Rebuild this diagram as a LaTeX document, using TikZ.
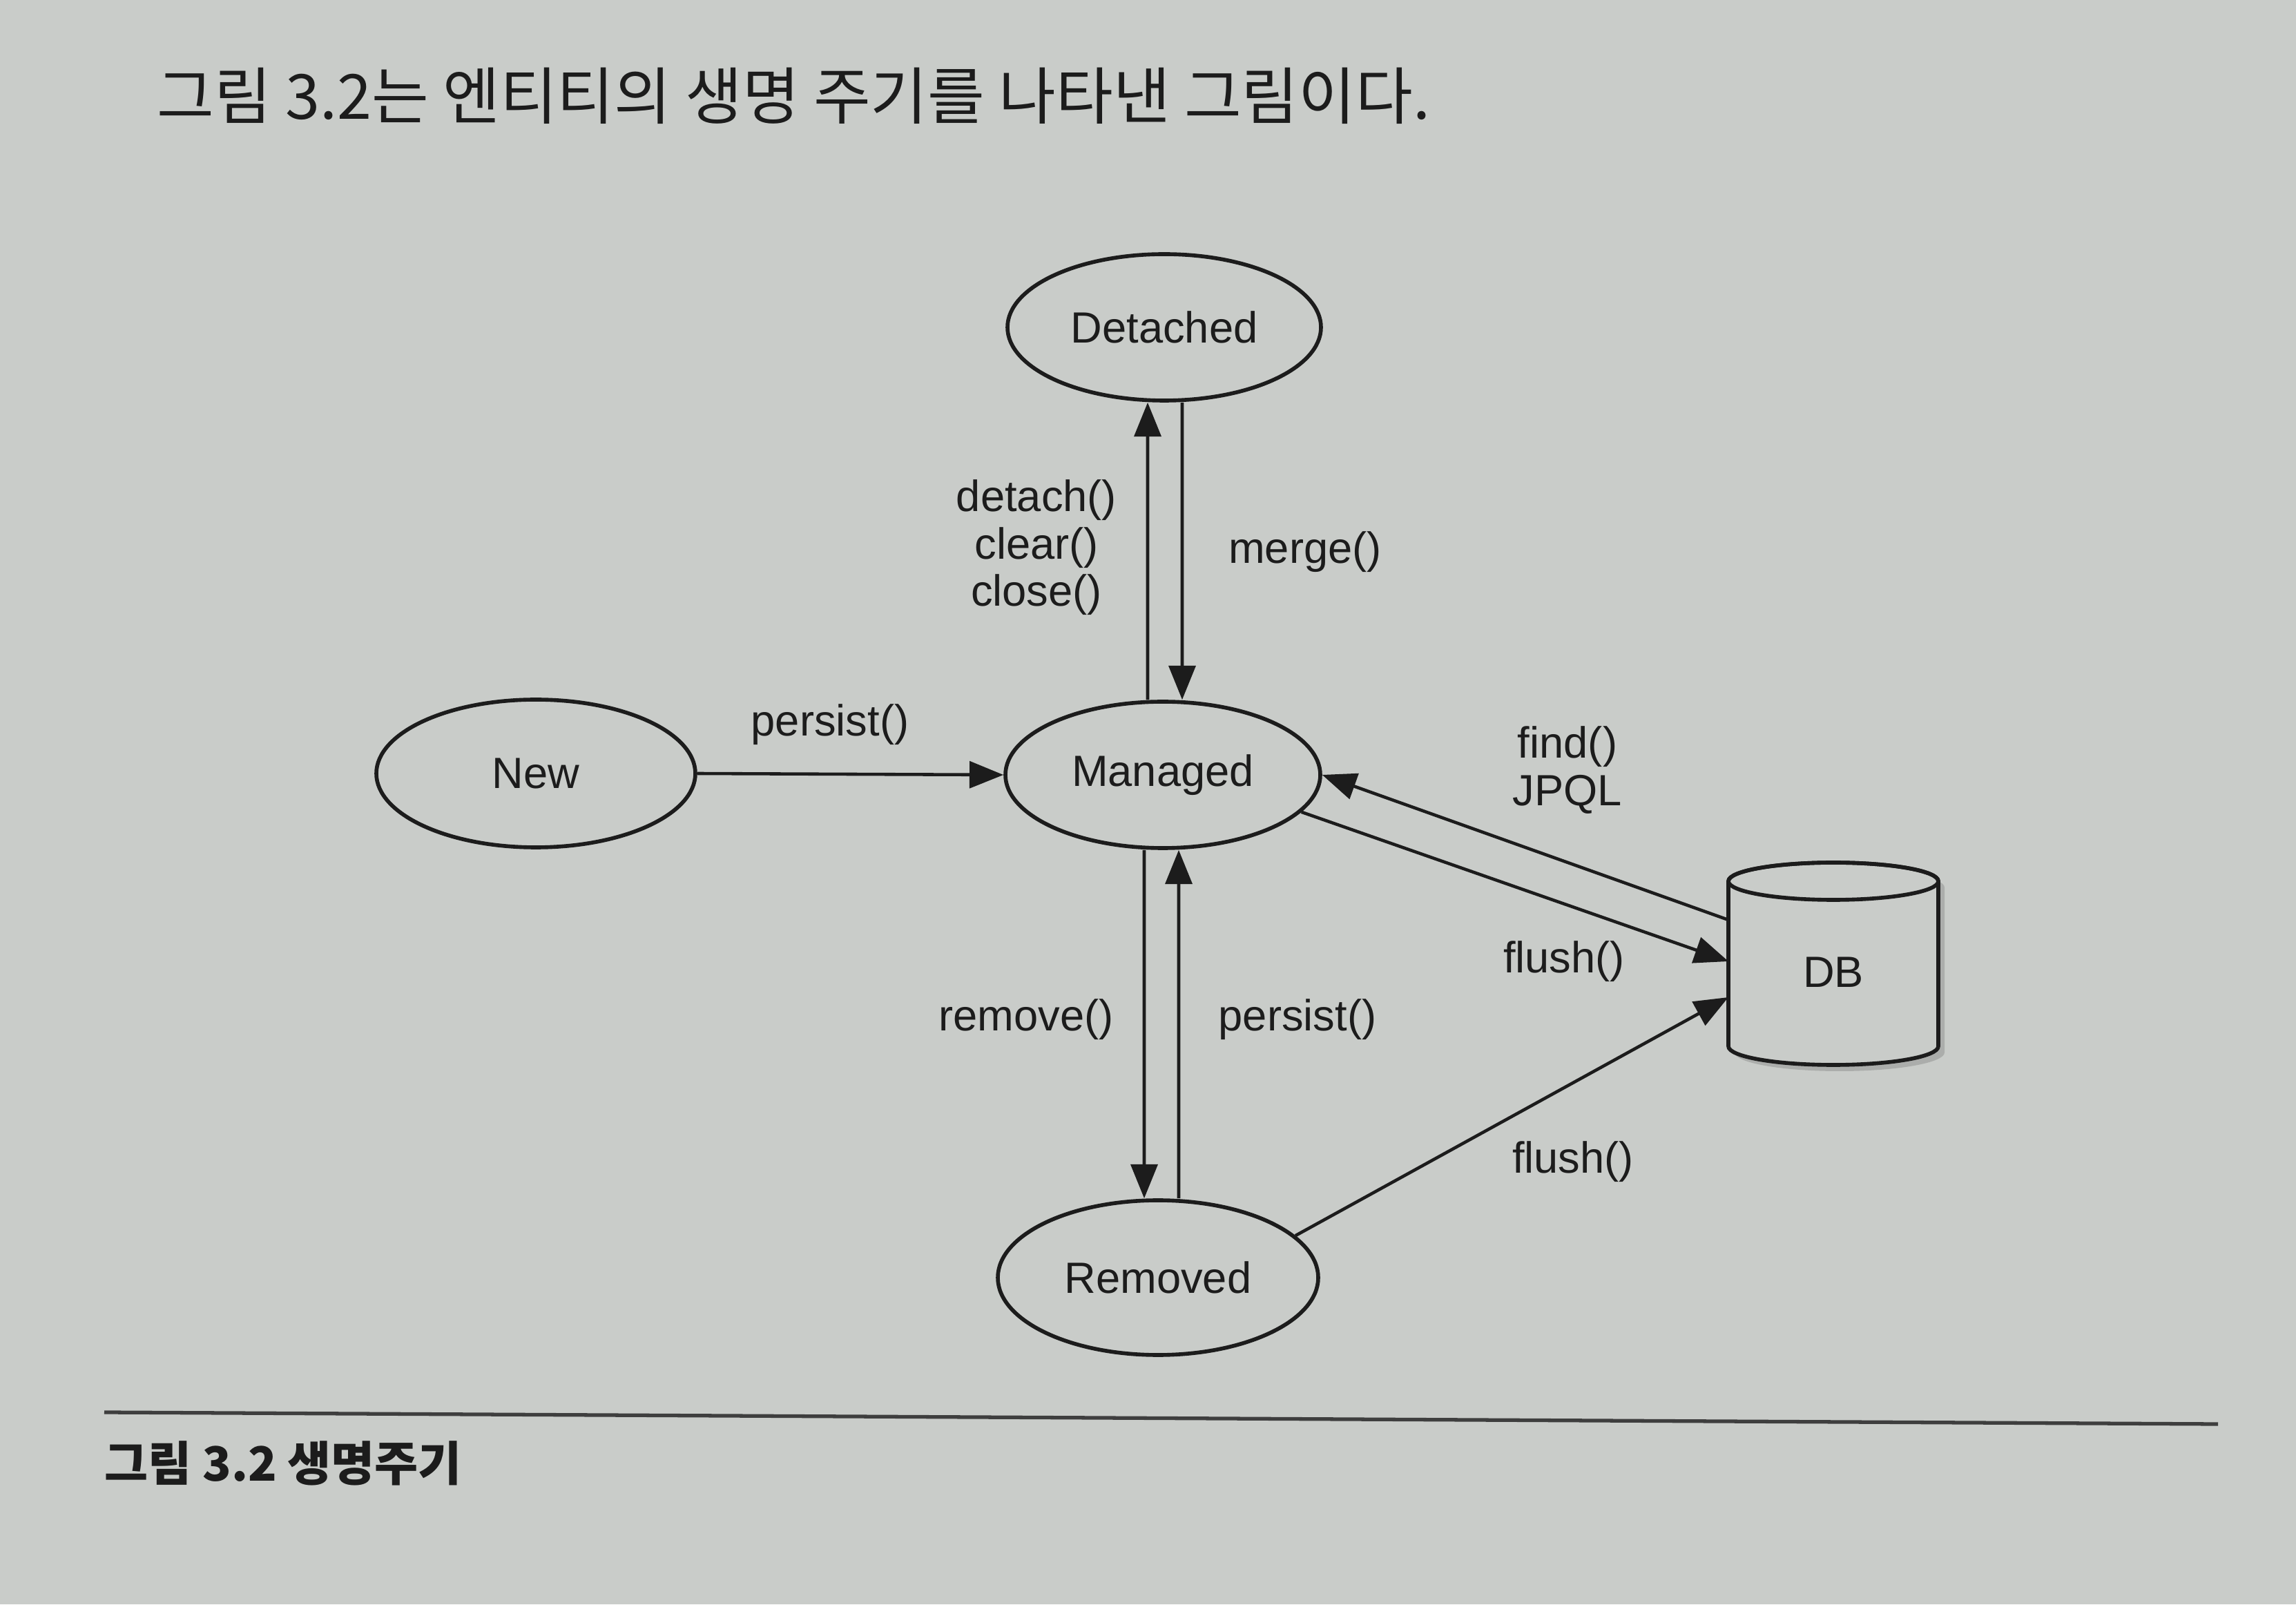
\documentclass[tikz,border=0pt]{standalone}
\usepackage{fontspec}
\usepackage{tikz}
\usetikzlibrary{shapes.geometric,arrows.meta}
\setmainfont{Liberation Sans}
\newfontfamily\krfont{Noto Sans CJK KR}
\definecolor{paper}{RGB}{201,204,201}
\definecolor{ink}{RGB}{28,28,28}

\begin{document}
\begin{tikzpicture}[
  state/.style={ellipse, draw=ink, line width=1.6pt, inner sep=0pt, text=ink},
  arr/.style={draw=ink, line width=1.3pt, -{Triangle[length=14pt,width=11pt]}},
  lbl/.style={text=ink, align=center, inner sep=0pt},
  font=\fontsize{18}{19.5}\selectfont
]
\fill[paper] (0,0) rectangle (33.25,23.23);
\useasboundingbox (0,0) rectangle (33.25,23.23);

\node[anchor=west, text=ink, inner sep=0pt] (title) at (2.27,21.84) {\krfont\fontsize{25.6}{30}\selectfont 그림 3.2는 엔티티의 생명 주기를 나타낸 그림이다.};

% states
\node[state, minimum width=4.54cm, minimum height=2.12cm] (detached) at (16.86,18.49) {Detached};
\node[state, minimum width=4.62cm, minimum height=2.14cm] (new) at (7.76,12.03) {New};
\node[state, minimum width=4.56cm, minimum height=2.12cm] (managed) at (16.84,12.01) {Managed};
\node[state, minimum width=4.64cm, minimum height=2.24cm] (removed) at (16.77,4.73) {Removed};

% db cylinder
\fill[black, opacity=0.15, xshift=0.9mm, yshift=-0.9mm] (25.03,10.47) -- (25.03,8.08) arc[start angle=180, end angle=360, x radius=1.52, y radius=0.27] -- (28.07,10.47) arc[start angle=0, end angle=180, x radius=1.52, y radius=0.27] -- cycle;
\draw[ink, line width=1.6pt, fill=paper] (25.03,10.47) -- (25.03,8.08) arc[start angle=180, end angle=360, x radius=1.52, y radius=0.27] -- (28.07,10.47) arc[start angle=0, end angle=180, x radius=1.52, y radius=0.27] -- cycle;
\draw[ink, line width=1.6pt] (26.55,10.47) ellipse[x radius=1.52, y radius=0.27];
\node[text=ink] (db) at (26.55,9.15) {DB};
\coordinate (dbfind) at (25.03,9.91);
\coordinate (dbflush) at (25.03,9.31);
\coordinate (dbrem) at (25.03,8.79);

% transitions
\draw[arr] (new.east) -- (managed.west);
\draw[arr] ([xshift=-2.2mm]managed.north) -- ([xshift=-2.4mm]detached.south);
\draw[arr] ([xshift=2.6mm]detached.south) -- ([xshift=2.8mm]managed.north);
\draw[arr] ([xshift=-2.7mm]managed.south) -- ([xshift=-2.0mm]removed.north);
\draw[arr] ([xshift=3.0mm]removed.north) -- ([xshift=2.3mm]managed.south);
\draw[arr] (dbfind) -- (managed.east);
\draw[arr] (managed.-15) -- (dbflush);
\draw[arr] (removed.17) -- (dbrem);

% labels
\node[lbl] (detachlbl) at (15.01,15.30) {detach()\\clear()\\close()};
\node[lbl] (mergelbl) at (18.90,15.24) {merge()};
\node[lbl] (persistlbl) at (12.02,12.74) {persist()};
\node[lbl] (findlbl) at (22.70,12.08) {find()\\JPQL};
\node[lbl] (flushlbl) at (22.65,9.31) {flush()};
\node[lbl] (flushlbl2) at (22.78,6.41) {flush()};
\node[lbl] (removelbl) at (14.86,8.47) {remove()};
\node[lbl] (persistlbl2) at (18.79,8.47) {persist()};

% caption
\draw[ink!85, line width=1.5pt] (1.51,2.78) -- (32.12,2.61);
\node[anchor=west, text=ink, inner sep=0pt] (caption) at (1.51,2.04) {\krfont\bfseries\fontsize{19.5}{22}\selectfont 그림 3.2 생명주기};
\end{tikzpicture}
\end{document}
